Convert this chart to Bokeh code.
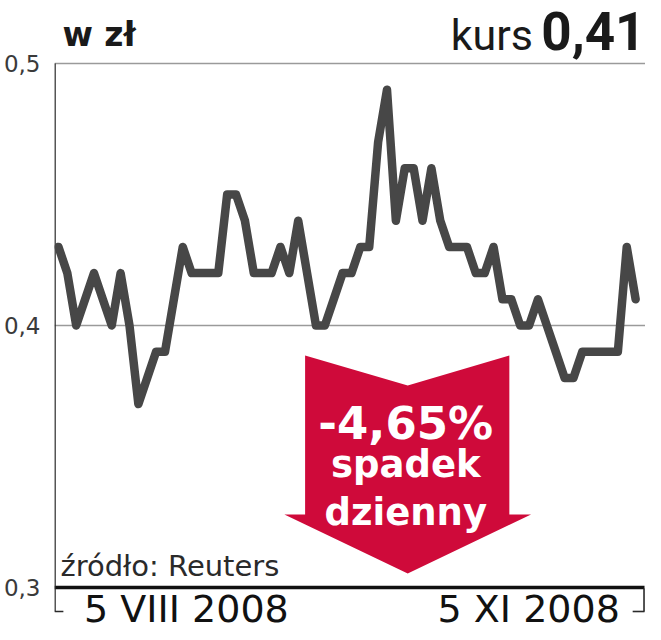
from bokeh.plotting import figure
from bokeh.models import Range1d, FixedTicker, CustomJSTickFormatter, Label
from bokeh.embed import file_html
from bokeh.resources import INLINE

# ---- data ----
prices = [0.43, 0.42, 0.40, 0.41, 0.42, 0.41, 0.40, 0.42, 0.40, 0.37,
          0.38, 0.39, 0.39, 0.41, 0.43, 0.42, 0.42, 0.42, 0.42, 0.45,
          0.45, 0.44, 0.42, 0.42, 0.42, 0.43, 0.42, 0.44, 0.42, 0.40,
          0.40, 0.41, 0.42, 0.42, 0.43, 0.43, 0.47, 0.49, 0.44, 0.46,
          0.46, 0.44, 0.46, 0.44, 0.43, 0.43, 0.43, 0.42, 0.42, 0.43,
          0.41, 0.41, 0.40, 0.40, 0.41, 0.40, 0.39, 0.38, 0.38, 0.39,
          0.39, 0.39, 0.39, 0.39, 0.43, 0.41]
session = list(range(len(prices)))
y_ticks = [0.3, 0.4, 0.5]
grid_ticks = [0.4, 0.5]
start_label = "5 VIII 2008"
end_label = "5 XI 2008"
unit_label = "w zł"
price_prefix = "kurs"
last_price = "0,41"
change_text = ["-4,65%", "spadek", "dzienny"]
source_text = "źródło: Reuters"

RED = "#cf0a3a"
LINE = "#474747"
H = 632


# placement helpers (reference pixel -> data coordinates)
def X(px):
    return (px - 58) / 9.0


def Y(py):
    return 0.5 - (py - 63) / 2620.0


p = figure(width=645, height=H, output_backend="svg", toolbar_location=None,
           x_axis_type=None,
           x_range=Range1d(X(54), X(653)), y_range=Range1d(Y(H), Y(0)),
           min_border_left=46, min_border_right=0, min_border_top=0, min_border_bottom=0)
p.outline_line_color = None
p.background_fill_color = "white"
p.border_fill_color = "white"

ax = p.yaxis[0]
ax.ticker = FixedTicker(ticks=y_ticks)
ax.formatter = CustomJSTickFormatter(code="return tick.toFixed(1).replace('.', ',');")
ax.major_tick_line_color = None
ax.minor_tick_line_color = None
ax.axis_line_color = None
ax.major_label_standoff = 8
ax.major_label_text_font = "DejaVu Sans"
ax.major_label_text_font_size = "23px"
ax.major_label_text_color = "#3a3a3a"

p.ygrid.ticker = FixedTicker(ticks=grid_ticks)
p.ygrid.grid_line_color = "#9a9a9a"
p.ygrid.grid_line_width = 1.5

# baseline at 0,3
p.segment(x0=[X(54)], y0=[y_ticks[0]], x1=[X(652)], y1=[y_ticks[0]],
          line_color="#111111", line_width=3.5)

# left axis line and brackets below the baseline
p.segment(x0=[X(54.5), X(54), X(640), X(651.5)], y0=[y_ticks[-1], Y(611), Y(611), Y(588)],
          x1=[X(54.5), X(63), X(652), X(651.5)], y1=[Y(611), Y(611), Y(611), Y(611)],
          line_color="#2a2a2a", line_width=1.6)

# price line
p.line(session, prices, line_width=8.5, line_color=LINE, line_join="round", line_cap="round")

# red arrow
ax_px = [308, 412, 515, 515, 537, 412, 287, 308]
ay_px = [355, 385, 355, 514, 514, 573, 514, 514]
p.patch([X(v) for v in ax_px], [Y(v) for v in ay_px], fill_color=RED, line_color=None)


def label(text, px, py, size, font="DejaVu Sans", style="normal", color="#1a1a1a", align="left"):
    # py is the wanted baseline in reference pixels; compensate renderer's baseline offset
    p.add_layout(Label(x=X(px), y=Y(py - 0.38 * size), text=text, text_font=font,
                       text_font_style=style, text_font_size=f"{size}px", text_color=color,
                       text_align=align, text_baseline="alphabetic"))


# arrow texts
for txt, size, base in zip(change_text, [45, 37, 37], [440, 478, 526]):
    label(txt, 410, base, size, style="bold", color="white", align="center")

# titles
label(unit_label, 62, 47, 33, style="bold")
label(price_prefix, 539, 51, 43, font="Roboto", align="right")
label(last_price, 653, 51, 53, font="Roboto", style="bold", align="right")

# source and date labels
label(source_text, 60, 577, 29, color="#2a2a2a")
label(start_label, 84, 623, 38, color="#111111")
label(end_label, 627, 623, 38, color="#111111", align="right")

open("out.html", "w").write(file_html(p, INLINE))
